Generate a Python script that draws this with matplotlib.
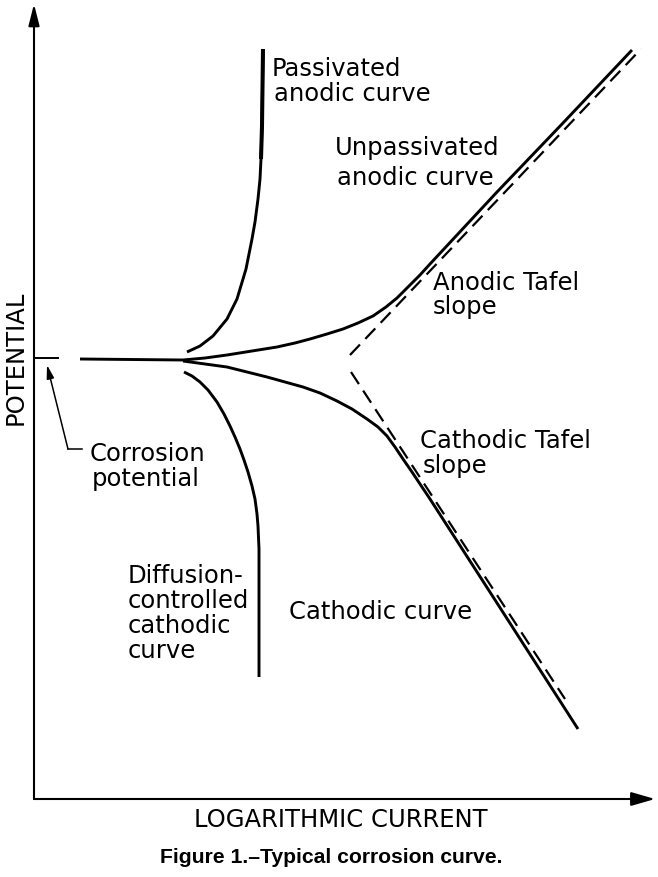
import matplotlib
matplotlib.use("Agg")
import matplotlib.pyplot as plt

# Schematic values (x = log current, y = potential; arbitrary units)
anodic_x = [46, 149, 171, 193, 218, 243, 261, 276, 293, 309, 324, 339, 352, 363,
            374, 386, 396, 463, 529, 598]
anodic_y = [440, 439, 441, 444, 448, 452, 456, 460, 465, 470, 476, 483, 492, 501,
            512, 524, 535, 607, 676, 749]

anodic_tafel_x = [316, 607]
anodic_tafel_y = [444, 750]

cathodic_x = [149, 171, 193, 213, 233, 251, 269, 286, 303, 318, 333, 344, 353, 361,
              369, 378, 386, 396, 463, 544]
cathodic_y = [438, 435, 432, 427, 422, 417, 412, 406, 398, 390, 380, 372, 363, 352,
              340, 327, 315, 300, 196, 70]

cathodic_tafel_x = [317, 531]
cathodic_tafel_y = [427, 100]

diffusion_x = [150, 158, 166, 174, 183, 190, 196, 201, 206, 210, 214, 218, 221, 223,
               224, 225, 225, 225]
diffusion_y = [427, 423, 417, 409, 397, 385, 373, 362, 350, 339, 327, 313, 300, 285,
               273, 250, 223, 122]

passivated_x = [153, 166, 179, 193, 198, 203, 206, 209, 212, 214, 216, 218, 221, 224,
                226, 227, 228, 229]
passivated_y = [447, 453, 463, 480, 490, 500, 510, 520, 530, 540, 550, 560, 577, 600,
                620, 640, 673, 750]

corrosion_potential = 441

fig = plt.figure(figsize=(6.58, 8.78), dpi=100)
ax = fig.add_axes([0, 0, 1, 1])
ax.set_xlim(-34, 624)
ax.set_ylim(-78, 800)
ax.axis("off")

lw = 2.1
for xs, ys in [(anodic_x, anodic_y), (cathodic_x, cathodic_y),
               (diffusion_x, diffusion_y), (passivated_x, passivated_y)]:
    ax.plot(xs, ys, color="black", lw=lw, solid_capstyle="butt",
            solid_joinstyle="round")
ax.plot(passivated_x[-3:], passivated_y[-3:], color="black", lw=2.9,
        solid_capstyle="butt")
ax.plot(anodic_tafel_x, anodic_tafel_y, color="black", lw=1.6, ls=(0, (6.5, 3.5)))
ax.plot(cathodic_tafel_x, cathodic_tafel_y, color="black", lw=1.6, ls=(0, (6.5, 3.5)))

# axes with arrows
ax.annotate("", xy=(0, 795), xytext=(0, 0),
            arrowprops=dict(arrowstyle="-|>,head_length=1.3,head_width=0.33",
                            lw=1.5, color="black", shrinkA=0, shrinkB=0))
ax.annotate("", xy=(621, 0), xytext=(0, 0),
            arrowprops=dict(arrowstyle="-|>,head_length=1.45,head_width=0.42",
                            lw=1.5, color="black", shrinkA=0, shrinkB=0))

# corrosion potential tick and pointer
ax.plot([0, 24], [corrosion_potential, corrosion_potential], color="black", lw=1.4)
ax.annotate("", xy=(13, corrosion_potential - 7), xytext=(34, 350),
            arrowprops=dict(arrowstyle="-|>,head_length=0.8,head_width=0.22",
                            lw=1.1, color="black", shrinkA=0, shrinkB=0))
ax.plot([34, 48], [350, 350], color="black", lw=1.1)

fs = 17.5
fam = "DejaVu Sans"
labels = [
    ("Passivated", 238, 724),
    ("anodic curve", 240, 699),
    ("Unpassivated", 301, 645),
    ("anodic curve", 303, 615),
    ("Anodic Tafel", 399, 510),
    ("slope", 399, 486),
    ("Cathodic Tafel", 386, 352),
    ("slope", 389, 327),
    ("Cathodic curve", 255, 181),
    ("Corrosion", 56, 339),
    ("potential", 58, 314),
    ("Diffusion-", 94, 217),
    ("controlled", 94, 192),
    ("cathodic", 94, 167),
    ("curve", 94, 142),
]
for txt, x, y in labels:
    ax.text(x, y, txt, fontsize=fs, family=fam, ha="left", va="baseline",
            color="black")

ax.text(-18, 442, "POTENTIAL", fontsize=fs, family=fam, rotation=90,
        ha="center", va="center")
ax.text(307, -20, "LOGARITHMIC CURRENT", fontsize=fs, family=fam,
        ha="center", va="center")
ax.text(297, -58, "Figure 1.\u2013Typical corrosion curve.", fontsize=15.2,
        family="Liberation Sans", weight="bold", ha="center", va="center")

fig.savefig("out.png", dpi=100, facecolor="white")
